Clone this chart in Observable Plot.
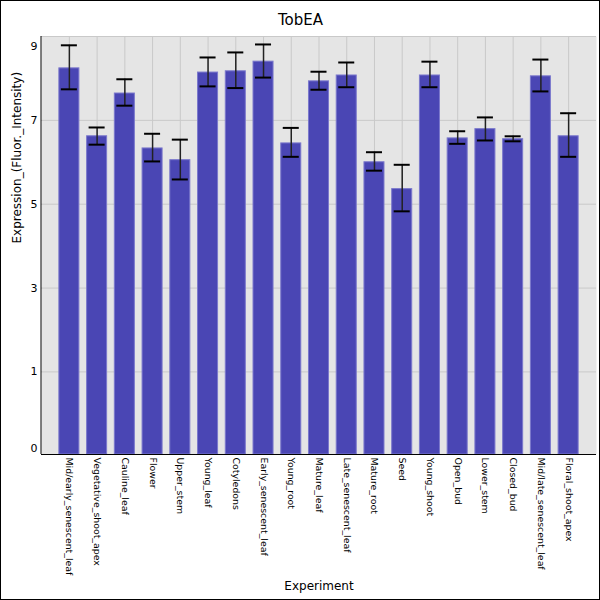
<!DOCTYPE html>
<html>
<head>
<meta charset="utf-8">
<script src="https://cdn.jsdelivr.net/npm/d3@7"></script>
<script src="https://cdn.jsdelivr.net/npm/@observablehq/plot@0.6"></script>
<style>
  html, body { margin: 0; padding: 0; background: #fff; }
  #chart svg { display: block; outline: 1px solid #000; outline-offset: -1px; }
</style>
</head>
<body>
<div id="chart"></div>
<script>
const title = "TobEA";
const xLabel = "Experiment";
const yLabel = "Expression_(Fluor._Intensity)";
const categories = [
  "Mid/early_senescent_leaf", "Vegetative_shoot_apex", "Cauline_leaf", "Flower",
  "Upper_stem", "Young_leaf", "Cotyledons", "Early_senescent_leaf", "Young_root",
  "Mature_leaf", "Late_senescent_leaf", "Mature_root", "Seed", "Young_shoot",
  "Open_bud", "Lower_stem", "Closed_bud", "Mid/late_senescent_leaf", "Floral_shoot_apex"
];
const values = [8.24, 6.62, 7.64, 6.33, 6.05, 8.14, 8.17, 8.40, 6.45, 7.93, 8.07, 6.00, 5.36, 8.07, 6.57, 6.79, 6.55, 8.05, 6.62];
const errHigh = [8.79, 6.83, 7.98, 6.68, 6.54, 8.50, 8.62, 8.81, 6.82, 8.16, 8.38, 6.24, 5.94, 8.40, 6.74, 7.07, 6.62, 8.45, 7.17];
const errLow  = [7.74, 6.42, 7.35, 6.02, 5.59, 7.81, 7.77, 8.02, 6.13, 7.73, 7.79, 5.80, 4.83, 7.79, 6.44, 6.52, 6.50, 7.69, 6.13];
const yTicks = [1, 3, 5, 7];
const yDomain = [-0.97, 9];
const endLabels = [{v: 9, t: "9"}];
const startLabels = [{v: -0.97, t: "0"}];

const data = categories.map((name, i) => ({name, value: values[i], lo: errLow[i], hi: errHigh[i]}));

const leftLine = (index, scales, values, dims) => {
  const g = document.createElementNS("http://www.w3.org/2000/svg", "line");
  g.setAttribute("x1", dims.marginLeft);
  g.setAttribute("x2", dims.marginLeft);
  g.setAttribute("y1", dims.marginTop);
  g.setAttribute("y2", dims.height - dims.marginBottom);
  g.setAttribute("stroke", "#000");
  g.setAttribute("stroke-width", 1);
  return g;
};

const chart = Plot.plot({
  width: 600,
  height: 600,
  marginTop: 36,
  marginBottom: 146,
  marginLeft: 41,
  marginRight: 4,
  style: {fontFamily: "DejaVu Sans", fontSize: "11px", color: "#000", background: "#fff"},
  x: {domain: categories, paddingInner: 0.242, paddingOuter: 0.626, round: false, label: null},
  y: {domain: yDomain, label: null},
  marks: [
    Plot.frame({fill: "#e5e5e5", stroke: null}),
    Plot.gridY([...yTicks, 9], {stroke: "#c9c9c9", strokeOpacity: 1, strokeWidth: 1}),
    Plot.gridX({stroke: "#c9c9c9", strokeOpacity: 1, strokeWidth: 1}),
    Plot.barY(data, {x: "name", y1: yDomain[0], y2: "value", fill: "#4a46b4", stroke: "#7b78cc", strokeWidth: 1, insetLeft: 0.5, insetRight: 0.5}),
    Plot.ruleX(data, {x: "name", y1: "lo", y2: "hi", stroke: "#222", strokeWidth: 1.5}),
    Plot.tickY(data, {x: "name", y: "hi", stroke: "#000", strokeWidth: 2, inset: 2.5}),
    Plot.tickY(data, {x: "name", y: "lo", stroke: "#000", strokeWidth: 2, inset: 2.5}),
    Plot.ruleY([yDomain[0]], {stroke: "#000", strokeWidth: 1}),
    leftLine,
    Plot.axisY({ticks: yTicks, tickSize: 0, tickPadding: 4, fontSize: 11, label: null}),
    Plot.text(endLabels, {y: "v", text: "t", frameAnchor: "left", dx: -4, dy: 9.5, textAnchor: "end", fontSize: 11}),
    Plot.text(startLabels, {y: "v", text: "t", frameAnchor: "left", dx: -4, dy: -6, textAnchor: "end", fontSize: 11}),
    Plot.axisX({tickRotate: 90, tickSize: 0, tickPadding: 3, fontSize: 9.4, label: null}),
    Plot.text([title], {frameAnchor: "top", lineAnchor: "middle", dy: -16, dx: -18.5, fontSize: 15}),
    Plot.text([yLabel], {frameAnchor: "left", dx: -24, dy: -2, rotate: -90, fontSize: 12}),
    Plot.text([xLabel], {frameAnchor: "bottom", lineAnchor: "middle", dy: 132, fontSize: 12})
  ]
});
document.getElementById("chart").appendChild(chart);
</script>
</body>
</html>
